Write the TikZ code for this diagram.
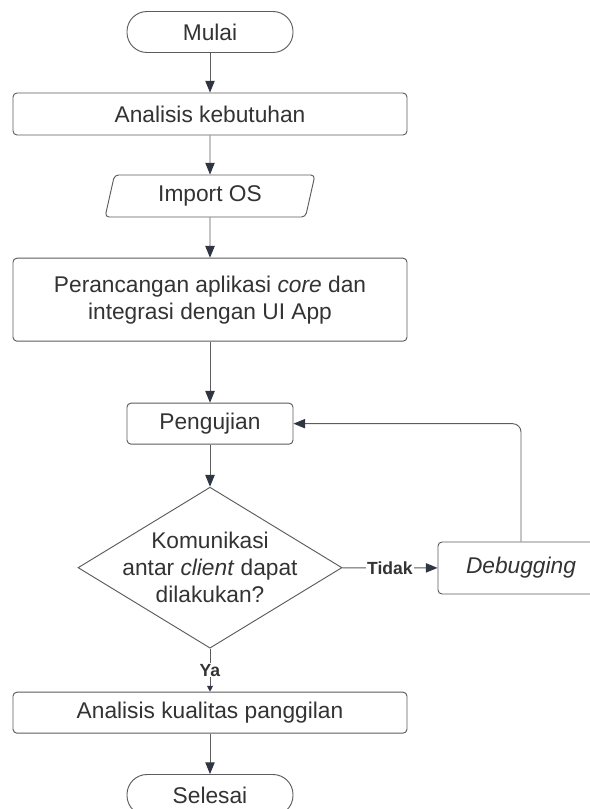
\documentclass[tikz,border=0pt]{standalone}
\usepackage{fontspec}
\setmainfont{Liberation Sans}
\usetikzlibrary{shapes,arrows.meta,positioning}
\definecolor{garis}{HTML}{5C5C5C}
\definecolor{panah}{HTML}{2F3542}
\definecolor{teks}{HTML}{333333}

\begin{document}
\begin{tikzpicture}[
    proses/.style={rectangle, draw=garis, fill=white, rounded corners=0.12cm, line width=0.8pt, minimum width=11.82cm, minimum height=1.26cm, text=teks, font=\fontsize{19.4}{23}\selectfont, align=center},
    terminal/.style={proses, rounded corners=0.6cm, minimum width=4.98cm, minimum height=1.23cm},
    masukan/.style={proses, trapezium, trapezium left angle=79, trapezium right angle=101, trapezium stretches=true, minimum width=6.3cm, minimum height=1.26cm},
    keputusan/.style={diamond, draw=garis, fill=white, line width=0.8pt, inner sep=0pt, minimum width=7.92cm, minimum height=4.83cm},
    alur/.style={draw=garis, line width=0.8pt, -{Triangle[length=10pt,width=8pt,color=panah]}},
    ket/.style={fill=white, inner sep=1pt, text=teks, font=\bfseries\fontsize{15}{18}\selectfont}
]
    \useasboundingbox (0,0) rectangle (17.7,-24.27);

    % Alur utama
    \node[terminal] (mulai) at (6.3,-0.96) {Mulai};
    \node[proses] (akeb) at (6.3,-3.42) {Analisis kebutuhan};
    \node[masukan] (impor) at (6.3,-5.88) {Import OS};
    \node[proses, minimum height=2.49cm] (rancang) at (6.3,-8.99) {Perancangan aplikasi \textit{core} dan\\ integrasi dengan UI App};
    \node[proses, minimum width=4.98cm, minimum height=1.23cm] (uji) at (6.3,-12.71) {Pengujian};
    \node[keputusan, label={[text=teks, font=\fontsize{19.4}{23}\selectfont, align=center]center:Komunikasi\\ antar \textit{client} dapat\\ dilakukan?}] (cek) at (6.3,-17.03) {};
    \node[proses, minimum width=11.82cm, minimum height=1.23cm] (akual) at (6.3,-21.38) {Analisis kualitas panggilan};
    \node[terminal] (selesai) at (6.3,-23.85) {Selesai};

    % Perbaikan
    \node[proses, minimum width=4.98cm, minimum height=1.56cm] (debug) at (15.63,-17.04) {\textit{Debugging}};

    \draw[alur] (mulai) -- (akeb);
    \draw[alur] (akeb) -- (impor);
    \draw[alur] (impor) -- (rancang);
    \draw[alur] (rancang) -- (uji);
    \draw[alur] (uji) -- (cek);
    \draw[alur] (cek) -- (debug) node[midway, ket] {Tidak};
    \draw[alur, -{Triangle[length=5pt,width=5pt,color=panah]}] (cek) -- (akual) node[midway, ket] {Ya};
    \draw[alur] (akual) -- (selesai);
    \draw[alur, rounded corners=0.25cm] (debug.north) |- (uji.east);
\end{tikzpicture}
\end{document}
